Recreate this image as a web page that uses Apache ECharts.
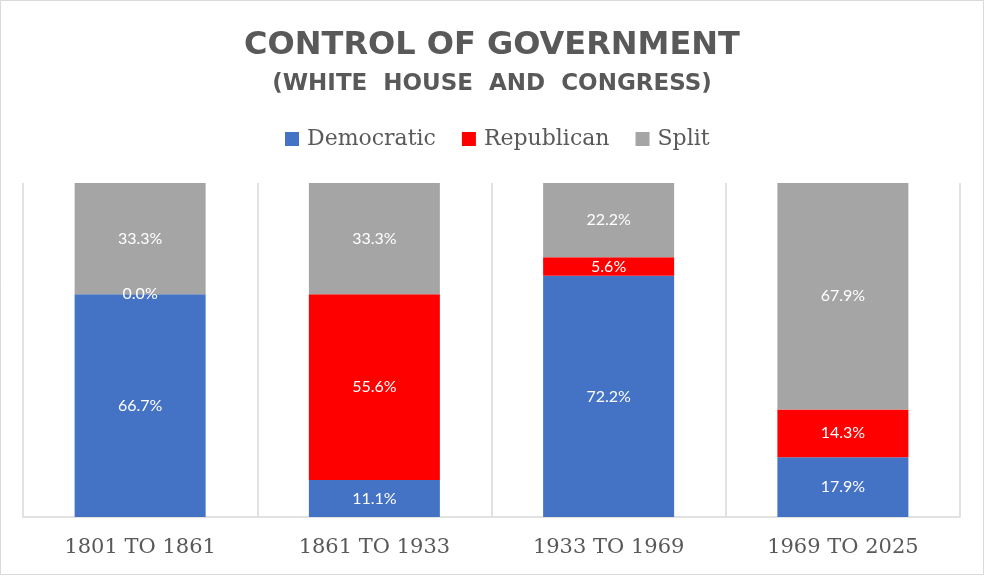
<!DOCTYPE html>
<html>
<head>
<meta charset="utf-8">
<script src="https://cdn.jsdelivr.net/npm/echarts@6/dist/echarts.min.js"></script>
<style>html,body{margin:0;padding:0;background:#fff}#c{width:984px;height:575px}</style>
</head>
<body>
<div id="c"></div>
<script>
var categories = ['1801 TO 1861', '1861 TO 1933', '1933 TO 1969', '1969 TO 2025'];
var democratic = [66.7, 11.1, 72.2, 17.9];
var republican = [0.0, 55.6, 5.6, 14.3];
var split = [33.3, 33.3, 22.2, 67.9];

var chart = echarts.init(document.getElementById('c'));
function lab() {
  return {
    show: true, position: 'inside', color: '#ffffff', fontFamily: 'Lato', fontSize: 16,
    formatter: function (p) { return p.value.toFixed(1) + '%'; }
  };
}
chart.setOption({
  animation: false,
  backgroundColor: '#ffffff',
  title: [
    { text: 'CONTROL OF GOVERNMENT', left: 'center', top: 21,
      textStyle: { fontFamily: 'DejaVu Sans', fontWeight: 'bold', fontSize: 32, color: '#595959', lineHeight: 40 } },
    { text: '(WHITE  HOUSE  AND  CONGRESS)', left: 'center', top: 64,
      textStyle: { fontFamily: 'DejaVu Sans', fontWeight: 'bold', fontSize: 23, color: '#595959', lineHeight: 30 } }
  ],
  legend: {
    top: 123, left: 280, itemWidth: 14, itemHeight: 14, itemGap: 26, icon: 'rect',
    textStyle: { fontFamily: 'DejaVu Serif', fontSize: 22, color: '#595959', padding: [0, 0, 0, 3] },
    data: ['Democratic', 'Republican', 'Split']
  },
  grid: { left: 23, right: 24, top: 183, bottom: 58, containLabel: false },
  xAxis: {
    type: 'category', data: categories,
    axisLine: { show: true, lineStyle: { color: '#d9d9d9', width: 1.5 } },
    axisTick: { show: false },
    splitLine: { show: true, lineStyle: { color: '#d9d9d9', width: 1.5 } },
    axisLabel: { fontFamily: 'DejaVu Serif', fontSize: 21, color: '#595959', margin: 20 }
  },
  yAxis: { type: 'value', min: 0, max: 100, show: false, splitLine: { show: false } },
  series: [
    { name: 'Democratic', type: 'bar', stack: 't', barWidth: 131, data: democratic, itemStyle: { color: '#4472c4' }, label: lab() },
    { name: 'Republican', type: 'bar', stack: 't', barWidth: 131, data: republican, itemStyle: { color: '#ff0000' }, label: lab() },
    { name: 'Split', type: 'bar', stack: 't', barWidth: 131, data: split, itemStyle: { color: '#a5a5a5' }, label: lab() }
  ],
  graphic: [
    { type: 'rect', shape: { x: 0.5, y: 0.5, width: 983, height: 574 }, style: { fill: 'none', stroke: '#d9d9d9', lineWidth: 1 }, silent: true }
  ]
});
</script>
</body>
</html>
